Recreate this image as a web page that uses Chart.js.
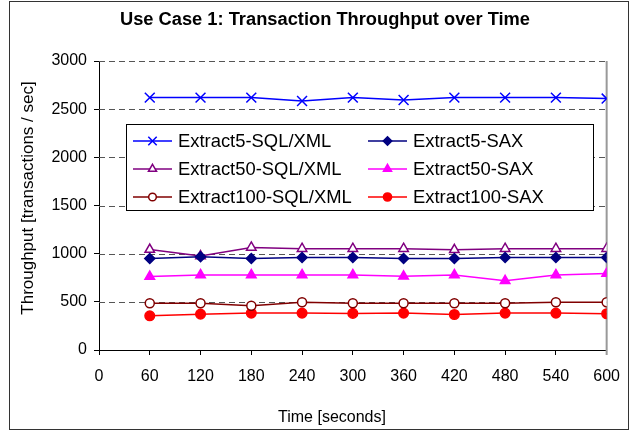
<!DOCTYPE html>
<html>
<head>
<meta charset="utf-8">
<script src="https://cdn.jsdelivr.net/npm/chart.js@4.4.1/dist/chart.umd.min.js"></script>
<style>
  html, body { margin: 0; padding: 0; background: #fff; }
  #wrap { width: 632px; height: 433px; }
</style>
</head>
<body>
<div id="wrap"><canvas id="throughput-chart"></canvas></div>
<script>
// Time axis (seconds) and measured throughput per series
const times = [60, 120, 180, 240, 300, 360, 420, 480, 540, 600];
const extract5Sql = [2620, 2620, 2620, 2585, 2620, 2595, 2620, 2620, 2620, 2610];
const extract5Sax = [950, 968, 950, 960, 960, 950, 950, 960, 960, 960];
const extract50Sql = [1043, 975, 1065, 1052, 1052, 1052, 1040, 1052, 1052, 1052];
const extract50Sax = [762, 779, 779, 779, 779, 765, 779, 718, 779, 793];
const extract100Sql = [485, 485, 460, 495, 485, 485, 485, 485, 495, 495];
const extract100Sax = [355, 372, 383, 383, 380, 383, 369, 383, 383, 376];
const xTickStep = 60;
const yTickStep = 500;
const yMax = 3000;

const titleText = 'Use Case 1: Transaction Throughput over Time';
const xTitle = 'Time [seconds]';
const yTitle = 'Throughput [transactions / sec]';

const FONT = "'Liberation Sans', Arial, Helvetica, sans-serif";

function pts(values) {
  return values.map((v, i) => ({ x: times[i], y: v }));
}

function series(label, values, color, style, radius, fill) {
  return {
    label: label,
    data: pts(values),
    borderColor: color,
    backgroundColor: color,
    borderWidth: 1.5,
    pointStyle: style,
    pointRadius: radius,
    pointHoverRadius: radius,
    pointBorderColor: color,
    pointBackgroundColor: fill,
    pointBorderWidth: 1.5,
    tension: 0
  };
}

// white background, outer frame, dashed gridlines, right edge, titles
const framePlugin = {
  id: 'frame',
  beforeDraw(chart) {
    const ctx = chart.ctx;
    ctx.save();
    ctx.fillStyle = '#fff';
    ctx.fillRect(0, 0, chart.width, chart.height);
    ctx.strokeStyle = '#333';
    ctx.lineWidth = 1;
    ctx.strokeRect(9.5, 1.5, 619, 428);

    ctx.fillStyle = '#000';
    ctx.textAlign = 'center';
    ctx.textBaseline = 'middle';
    ctx.font = 'bold 18.3px ' + FONT;
    ctx.fillText(titleText, 325, 20);
    ctx.font = '16px ' + FONT;
    ctx.fillText(xTitle, 332, 418);
    ctx.font = '17px ' + FONT;
    ctx.translate(28, 198);
    ctx.rotate(-Math.PI / 2);
    ctx.fillText(yTitle, 0, 0);
    ctx.restore();
  },
  beforeDatasetsDraw(chart) {
    const ctx = chart.ctx;
    const area = chart.chartArea;
    const y = chart.scales.y;
    ctx.save();
    ctx.strokeStyle = '#555';
    ctx.lineWidth = 1;
    ctx.setLineDash([6, 4]);
    y.ticks.forEach(t => {
      if (t.value <= 0) return;
      const py = Math.round(y.getPixelForValue(t.value)) + 0.5;
      ctx.beginPath();
      ctx.moveTo(area.left, py);
      ctx.lineTo(area.right, py);
      ctx.stroke();
    });
    ctx.setLineDash([]);
    ctx.strokeStyle = '#999';
    ctx.lineWidth = 2;
    ctx.beginPath();
    ctx.moveTo(area.right, area.top);
    ctx.lineTo(area.right, area.bottom + 5);
    ctx.stroke();
    ctx.restore();
  }
};

// legend box drawn inside the plot, two columns
const boxLegend = {
  id: 'boxLegend',
  afterDraw(chart) {
    const ctx = chart.ctx;
    const left = 126, top = 124, w = 467, h = 86;
    const rowY = [141, 169, 197];
    const colX = [133, 368];
    ctx.save();
    ctx.fillStyle = '#fff';
    ctx.fillRect(left, top, w, h);
    ctx.strokeStyle = '#000';
    ctx.lineWidth = 1;
    ctx.strokeRect(left + 0.5, top + 0.5, w, h);
    ctx.font = '18.4px ' + FONT;
    ctx.textBaseline = 'middle';
    chart.data.datasets.forEach((ds, i) => {
      const x = colX[i % 2];
      const y = rowY[Math.floor(i / 2)];
      ctx.strokeStyle = ds.borderColor;
      ctx.lineWidth = 1.5;
      ctx.beginPath();
      ctx.moveTo(x, y);
      ctx.lineTo(x + 39, y);
      ctx.stroke();
      ctx.fillStyle = ds.pointBackgroundColor;
      ctx.strokeStyle = ds.pointBorderColor;
      Chart.helpers.drawPoint(ctx, {
        pointStyle: ds.pointStyle,
        radius: ds.pointRadius * 0.85,
        rotation: 0,
        borderWidth: 1.5
      }, x + 19.5, y);
      ctx.fillStyle = '#000';
      ctx.fillText(ds.label, x + 45, y + 1);
    });
    ctx.restore();
  }
};

new Chart(document.getElementById('throughput-chart'), {
  type: 'line',
  data: {
    datasets: [
      series('Extract5-SQL/XML', extract5Sql, '#0000FF', 'crossRot', 7, '#0000FF'),
      series('Extract5-SAX', extract5Sax, '#000080', 'rectRot', 5, '#000080'),
      series('Extract50-SQL/XML', extract50Sql, '#800080', 'triangle', 5.5, '#fff'),
      series('Extract50-SAX', extract50Sax, '#FF00FF', 'triangle', 5.5, '#FF00FF'),
      series('Extract100-SQL/XML', extract100Sql, '#800000', 'circle', 4.5, '#fff'),
      series('Extract100-SAX', extract100Sax, '#FF0000', 'circle', 4.8, '#FF0000')
    ]
  },
  options: {
    responsive: true,
    maintainAspectRatio: false,
    animation: false,
    layout: { padding: { left: 10, right: 23, top: 61, bottom: 0 } },
    plugins: {
      legend: { display: false },
      tooltip: { enabled: false },
      title: { display: false }
    },
    scales: {
      x: {
        type: 'linear',
        min: 0,
        max: times[times.length - 1],
        afterFit: (s) => { s.height = 83; },
        ticks: {
          stepSize: xTickStep,
          color: '#000',
          font: { family: FONT, size: 16 },
          padding: 12,
          maxRotation: 0
        },
        grid: { drawOnChartArea: false, tickLength: 5, color: '#000' },
        border: { color: '#000', width: 1 }
      },
      y: {
        min: 0,
        max: yMax,
        afterFit: (s) => { s.width = 89; },
        ticks: {
          stepSize: yTickStep,
          color: '#000',
          font: { family: FONT, size: 16 },
          padding: 7,
          callback: (v) => String(v)
        },
        grid: { drawOnChartArea: false, tickLength: 5, color: '#000' },
        border: { color: '#000', width: 1 }
      }
    }
  },
  plugins: [framePlugin, boxLegend]
});
</script>
</body>
</html>
